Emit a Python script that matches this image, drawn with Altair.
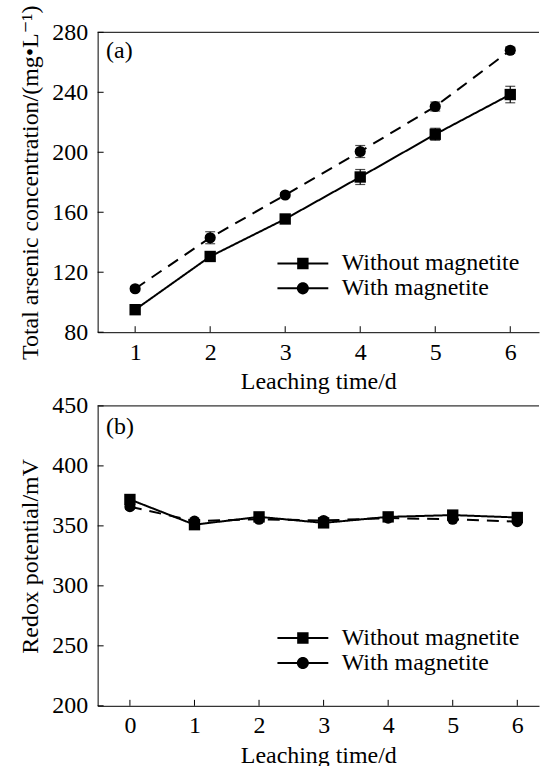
import altair as alt
import pandas as pd

series_names = ["Without magnetite", "With magnetite"]

# Panel (a): total arsenic concentration
days_a = [1, 2, 3, 4, 5, 6]
without_a = [95, 130.5, 155.5, 183.5, 212, 238.5]
with_a = [109, 143, 171.5, 200.5, 230.5, 268]
err_without_a = [1.5, 2, 2, 5, 4, 5.5]
err_with_a = [1.5, 4, 1.5, 4, 3, 2]

# Panel (b): redox potential
days_b = [0, 1, 2, 3, 4, 5, 6]
without_b = [372, 351, 357.5, 352.5, 357.5, 359, 357]
with_b = [366, 354, 355.5, 354.5, 356.5, 355.5, 353.5]

xticks_a = [1, 2, 3, 4, 5, 6]
yticks_a = [80, 120, 160, 200, 240, 280]
xticks_b = [0, 1, 2, 3, 4, 5, 6]
yticks_b = [200, 250, 300, 350, 400, 450]

FONT = "Liberation Serif, Times New Roman, Times, DejaVu Serif, serif"
W = 443
H = 301
XTITLE = "Leaching time/d"

SQ_PATH = "M-2.32,-0.09H2.32V0.09H-2.32ZM-0.52,-0.52H0.52V0.52H-0.52Z"
CI_PATH = ("M-2.32,-0.09H2.32V0.09H-2.32Z"
           "M0.55,0A0.55,0.55 0 1,1 -0.55,0A0.55,0.55 0 1,1 0.55,0Z")


def make_df(days, a, b, ea=None, eb=None):
    rows = []
    for i, d in enumerate(days):
        rows.append({"day": d, "value": a[i], "series": series_names[0],
                     "err": ea[i] if ea else 0})
        rows.append({"day": d, "value": b[i], "series": series_names[1],
                     "err": eb[i] if eb else 0})
    df = pd.DataFrame(rows)
    df["lo"] = df["value"] - df["err"]
    df["hi"] = df["value"] + df["err"]
    return df


def panel(df, xticks, yticks, xdom, ydom, ytitle, tag, tag_y, legend_y, with_err):
    xs = alt.Scale(domain=xdom, nice=False, zero=False)
    ys = alt.Scale(domain=ydom, nice=False, zero=False)
    xax = alt.Axis(values=xticks, format="d")

    def X(f):
        return alt.X(f, scale=xs, axis=xax, title=XTITLE)

    def Y(f):
        return alt.Y(f, scale=ys, axis=alt.Axis(values=yticks, format="d"), title=ytitle)

    base = alt.Chart(df)
    is_without = alt.datum.series == series_names[0]

    lines = base.mark_line(strokeWidth=2, color="black").encode(
        x=X("day:Q"), y=Y("value:Q"), detail="series:N",
        strokeDash=alt.condition(is_without, alt.value([1, 0]), alt.value([12, 8])),
    )
    points = base.mark_point(filled=True, color="black", opacity=1).encode(
        x=X("day:Q"), y=Y("value:Q"),
        shape=alt.condition(is_without, alt.value("square"), alt.value("circle")),
        size=alt.condition(is_without, alt.value(130), alt.value(125)),
    )
    legend_layer = base.transform_filter("false").mark_point(
        filled=True, color="black", opacity=1
    ).encode(
        x=X("day:Q"), y=Y("value:Q"),
        shape=alt.Shape(
            "series:N",
            scale=alt.Scale(domain=series_names, range=[SQ_PATH, CI_PATH]),
            legend=alt.Legend(
                orient="none", legendX=194, legendY=legend_y, title=None,
                labelFont=FONT, labelFontSize=24, labelColor="black", labelLimit=400,
                symbolSize=484, symbolStrokeWidth=0, symbolFillColor="black",
                symbolOpacity=1, labelOffset=27, rowPadding=1, padding=0,
            ),
        ),
    )

    tx = alt.Chart(pd.DataFrame({"t": xticks})).mark_rule(color="black", strokeWidth=1).encode(
        x=X("t:Q"), y=alt.value(H - 6), y2=alt.value(H)
    )
    ty = alt.Chart(pd.DataFrame({"t": yticks})).mark_rule(color="black", strokeWidth=1).encode(
        y=Y("t:Q"), x=alt.value(0), x2=alt.value(6)
    )
    one = pd.DataFrame({"a": [0]})
    top_border = alt.Chart(one).mark_rule(color="black", strokeWidth=1).encode(
        x=alt.value(0), x2=alt.value(W), y=alt.value(0)
    )
    label = alt.Chart(one).mark_text(
        text=tag, align="left", baseline="alphabetic", font=FONT, fontSize=24, color="black"
    ).encode(x=alt.value(8.5), y=alt.value(tag_y))

    layers = [top_border, tx, ty, lines]
    if with_err:
        err_rule = base.mark_rule(color="black", strokeWidth=1.2).encode(
            x=X("day:Q"), y=Y("lo:Q"), y2="hi:Q"
        )
        cap_lo = base.mark_tick(orient="horizontal", size=10, thickness=1.2, color="black").encode(
            x=X("day:Q"), y=Y("lo:Q")
        )
        cap_hi = base.mark_tick(orient="horizontal", size=10, thickness=1.2, color="black").encode(
            x=X("day:Q"), y=Y("hi:Q")
        )
        layers += [err_rule, cap_lo, cap_hi]
    layers += [points, legend_layer, label]
    return alt.layer(*layers).properties(width=W, height=H)


df_a = make_df(days_a, without_a, with_a, err_without_a, err_with_a)
df_b = make_df(days_b, without_b, with_b)

top = panel(df_a, xticks_a, yticks_a, [0.5, 0.5 + W / 75.3], [80, 280],
            "Total arsenic concentration/(mg\u2022L\u207b\u00b9)", "(a)", 25.5, 220, True)
bottom = panel(df_b, xticks_b, yticks_b, [-0.5, -0.5 + W / 64.8], [200, 450],
               "Redox potential/mV", "(b)", 28.5, 221, False)

chart = alt.vconcat(top, bottom, spacing=0).resolve_scale(
    x="independent", y="independent", shape="independent"
).resolve_legend(shape="independent").properties(
    padding={"left": 18, "top": 3, "right": 0, "bottom": 0}
).configure_view(stroke=None).configure_axis(
    domainColor="black", domainWidth=1, ticks=False, tickSize=0, grid=False,
    labelFont=FONT, labelFontSize=24, labelColor="black",
    titleFont=FONT, titleFontSize=24, titleFontWeight="normal", titleColor="black",
).configure_axisX(labelPadding=8, titlePadding=6).configure_axisY(labelPadding=10, titlePadding=9)

chart.save("out.html", embed_options={"renderer": "svg", "actions": False})
